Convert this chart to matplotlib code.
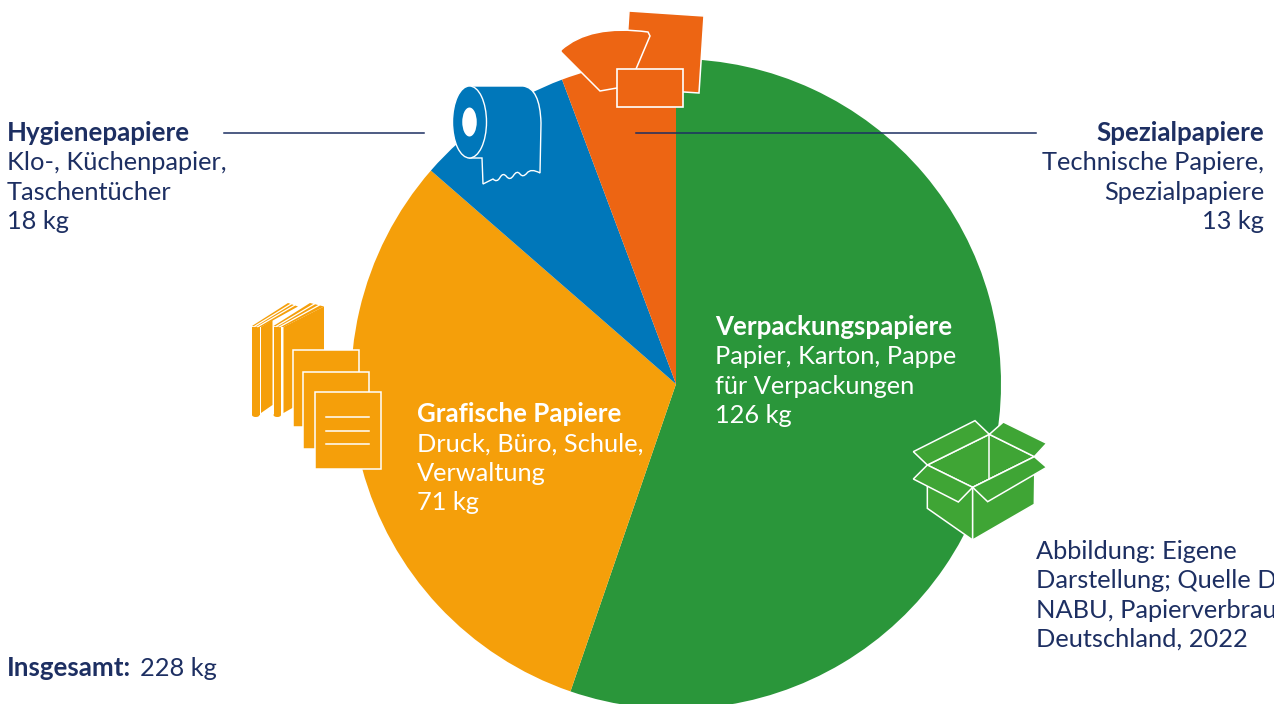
import matplotlib
matplotlib.use('Agg')
import matplotlib.pyplot as plt
from matplotlib.patches import Ellipse, PathPatch, Polygon, Rectangle
from matplotlib.path import Path

plt.rcParams['font.family'] = ['Lato', 'DejaVu Sans']

# Daten
kategorien = ['Verpackungspapiere', 'Grafische Papiere', 'Hygienepapiere', 'Spezialpapiere']
werte = [126, 71, 18, 13]
farben = ['#2a963a', '#f59f0a', '#0077ba', '#ed6513']
insgesamt = 228

NAVY = '#1d2f62'
HELLGRUEN = '#3fa535'
FS = 18.3
ZEILE = 29.3

fig = plt.figure(figsize=(12.74, 7.04), dpi=100)
ax = fig.add_axes([0, 0, 1, 1])

# y-Achse zeigt nach unten, darum laeuft der Kreis mit counterclock im Uhrzeigersinn
ax.pie(werte, colors=farben, center=(676, 384), radius=325, startangle=-90,
       counterclock=True, wedgeprops={'linewidth': 0})
ax.set_xlim(0, 1274)
ax.set_ylim(704, 0)
ax.set_aspect('auto')
ax.axis('off')


def block(x, y, zeilen, farbe=NAVY, ha='left'):
    ax.text(x, y, kategorien[zeilen[0]], color=farbe, fontsize=18.6, fontweight='bold',
            ha=ha, va='baseline')
    for i, z in enumerate(zeilen[1:], start=1):
        ax.text(x, y + i * ZEILE, z, color=farbe, fontsize=FS, ha=ha, va='baseline')


block(715, 335, [0, 'Papier, Karton, Pappe', 'für Verpackungen', f'{werte[0]} kg'], farbe='white')
block(417, 422, [1, 'Druck, Büro, Schule,', 'Verwaltung', f'{werte[1]} kg'], farbe='white')
block(7, 141, [2, 'Klo-, Küchenpapier,', 'Taschentücher', f'{werte[2]} kg'])
block(1264, 141, [3, 'Technische Papiere,', 'Spezialpapiere', f'{werte[3]} kg'], ha='right')

ax.text(7, 676, 'Insgesamt:', color=NAVY, fontsize=18.6, fontweight='bold', va='baseline')
ax.text(140, 676, f'{insgesamt} kg', color=NAVY, fontsize=FS, va='baseline')

# laeuft wie im Original rechts aus dem Bild
quelle = ['Abbildung: Eigene', 'Darstellung; Quelle D', 'NABU, Papierverbrauch', 'Deutschland, 2022']
for i, z in enumerate(quelle):
    ax.text(1036, 559 + i * ZEILE, z, color=NAVY, fontsize=FS, va='baseline', clip_on=True)

# Fuehrungslinien
ax.plot([224, 424], [132.5, 132.5], color=NAVY, lw=1.1)
ax.plot([636, 1036], [132.5, 132.5], color=NAVY, lw=1.1)


def poly(punkte, fc, ec='white', lw=1.1):
    ax.add_patch(Polygon(punkte, closed=True, facecolor=fc, edgecolor=ec, linewidth=lw,
                         joinstyle='miter'))


# Icon Spezialpapier
rot = farben[3]
poly([(629, 11), (704, 16), (699, 93), (624, 88)], rot)
fan = Path([(561, 50), (590, 24), (648, 32), (650, 36), (636, 69), (617, 88), (600, 91),
            (561, 52), (561, 50)],
           [Path.MOVETO, Path.CURVE3, Path.CURVE3, Path.LINETO, Path.LINETO, Path.LINETO,
            Path.LINETO, Path.LINETO, Path.CLOSEPOLY])
ax.add_patch(PathPatch(fan, facecolor=rot, edgecolor='white', linewidth=1.1))
ax.add_patch(Rectangle((617, 69), 65.5, 38, facecolor=rot, edgecolor='white', linewidth=1.2))

# Icon Klopapierrolle
blau = farben[2]
wellen = [(531, 168), (523, 178), (517, 170), (510, 181), (503, 172), (497, 183), (489, 175)]
v = [(469, 86), (523, 86), (540, 88), (541, 123), (540, 173)]
c = [Path.MOVETO, Path.LINETO, Path.CURVE3, Path.CURVE3, Path.LINETO]
for i, p in enumerate(wellen[:-1]):
    q = wellen[i + 1]
    v += [p, ((p[0] + q[0]) / 2, (p[1] + q[1]) / 2)]
    c += [Path.CURVE3, Path.CURVE3]
v += [(483, 184), (482, 158), (469, 158), (469, 86)]
c += [Path.LINETO, Path.LINETO, Path.LINETO, Path.CLOSEPOLY]
ax.add_patch(PathPatch(Path(v, c), facecolor=blau, edgecolor='white', linewidth=1.0))
ax.add_patch(Ellipse((469.5, 122), 34, 72, facecolor=blau, edgecolor='white', linewidth=1.0))
ax.add_patch(Ellipse((469.5, 122), 14.5, 29, facecolor='white', edgecolor='none'))

# Icon Buecher und Blaetter
gelb = farben[1]
poly([(261, 327), (272.5, 320), (272.5, 405), (261, 413)], gelb, ec='none', lw=0)
poly([(283.5, 327), (324, 306.5), (324, 390), (283.5, 413)], gelb, ec='none', lw=0)
for x0, x1, x2, x3 in [(252, 288, 298, 261), (273.5, 310, 324, 283.5)]:
    poly([(x0, 326), (x1, 303), (x2, 306.5), (x3, 327)], gelb, ec='none', lw=0)
    for k in (0.3, 0.65):
        ax.plot([x0 + k * (x3 - x0), x1 + k * (x2 - x1)], [326 + k, 303 + k * 3.5],
                color='white', lw=0.9)
    ax.add_patch(Rectangle((x0, 327), 7.5, 88, facecolor=gelb, edgecolor='none'))
    ax.add_patch(Ellipse((x0 + 3.75, 415), 7.5, 4, facecolor=gelb, edgecolor='none'))
for xy in [(292.5, 349.5), (302.5, 371.5), (314.5, 392)]:
    ax.add_patch(Rectangle(xy, 66, 77, facecolor=gelb, edgecolor='white', linewidth=1.1))
for y in (417, 430.5, 443.5):
    ax.plot([326, 369], [y, y], color='white', lw=1.1)


# Icon Karton
def box(punkte):
    poly([(900 + x / 3, 410 + y / 3) for x, y in punkte], HELLGRUEN)


box([(82, 165), (268, 73), (403, 140), (218, 232)])
ax.plot([900 + 268 / 3, 900 + 268 / 3], [410 + 73 / 3, 410 + 207 / 3], color='white', lw=1.1)
box([(82, 225), (218, 232), (218, 390), (82, 295)])
box([(218, 232), (405, 140), (403, 283), (218, 390)])
box([(40, 125), (225, 32), (268, 73), (82, 165)])
box([(268, 73), (310, 36), (440, 100), (403, 140)])
box([(82, 165), (218, 232), (175, 276), (40, 207)])
box([(403, 140), (440, 172), (263, 275), (218, 232)])

fig.savefig('out.png', dpi=100)
